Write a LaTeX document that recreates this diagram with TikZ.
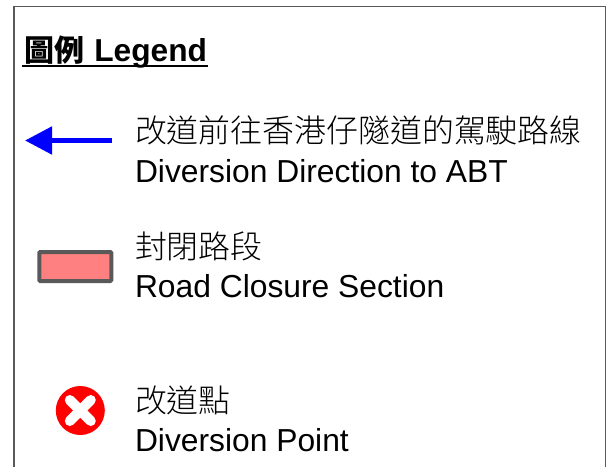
\documentclass[tikz,border=0pt]{standalone}
\usepackage{fontspec}
\setmainfont{Liberation Sans}
\newfontfamily\cjkfont{Noto Sans CJK TC}
\newfontfamily\cjklight{Noto Sans CJK TC Light}
\usetikzlibrary{arrows.meta}
\definecolor{framegrey}{HTML}{595959}
\tikzset{
  x=1pt,y=-1pt,
  frame/.style={draw=framegrey,line width=1.6pt},
  label/.style={anchor=base west,inner sep=0pt,outer sep=0pt,font=\fontsize{31.8}{32}\selectfont,text=black},
  cjklabel/.style={anchor=base west,inner sep=0pt,outer sep=0pt,font=\fontsize{31.9}{32}\selectfont\cjklight,text=black},
  title/.style={anchor=base west,inner sep=0pt,outer sep=0pt,font=\fontsize{31.7}{32}\selectfont\bfseries,text=black},
  diversion/.style={draw=blue,line width=5pt,-{Triangle[length=27pt,width=27pt]}},
  closure/.style={draw=framegrey,fill=red!50,line width=4pt,rounded corners=1pt,minimum width=72pt,minimum height=29pt,inner sep=0pt},
}
\begin{document}
\begin{tikzpicture}
\useasboundingbox (0,0) rectangle (607,466);
\path[fill=white] (0,0) rectangle (607,466);
\draw[frame] (14,480) -- (14,6.5) -- (205,6.5) -- (605.5,6.5) -- (605.5,480);
\node[title] (legendzh) at (24,61) {{\cjkfont\fontsize{30}{30}\selectfont 圖例}\hspace{1.5pt} Legend};
\draw[black,line width=1.5pt] (22,66) -- (208,66);
\coordinate (arrowstart) at (112,140.5);
\coordinate (arrowend) at (25,140.5);
\draw[diversion] (arrowstart) -- (arrowend);
\node[cjklabel] (a) at (135,142) {改道前往香港仔隧道的駕駛路線};
\node[label] (b) at (135,182) {Diversion Direction to ABT};
\node[closure] (box) at (75.3,266.5) {};
\node[cjklabel] (c) at (135,258) {封閉路段};
\node[label] (d) at (135,297) {Road Closure Section};
\node[circle,fill=red,minimum size=49pt,inner sep=0pt] (dot) at (80.3,410.5) {};
\draw[white,line width=10pt,line cap=round] ([shift={(-10.5,-10.5)}]dot.center) -- ([shift={(10.5,10.5)}]dot.center);
\draw[white,line width=10pt,line cap=round] ([shift={(-10.5,10.5)}]dot.center) -- ([shift={(10.5,-10.5)}]dot.center);
\node[cjklabel] (e) at (135,412) {改道點};
\node[label] (f) at (135,451) {Diversion Point};
\end{tikzpicture}
\end{document}
